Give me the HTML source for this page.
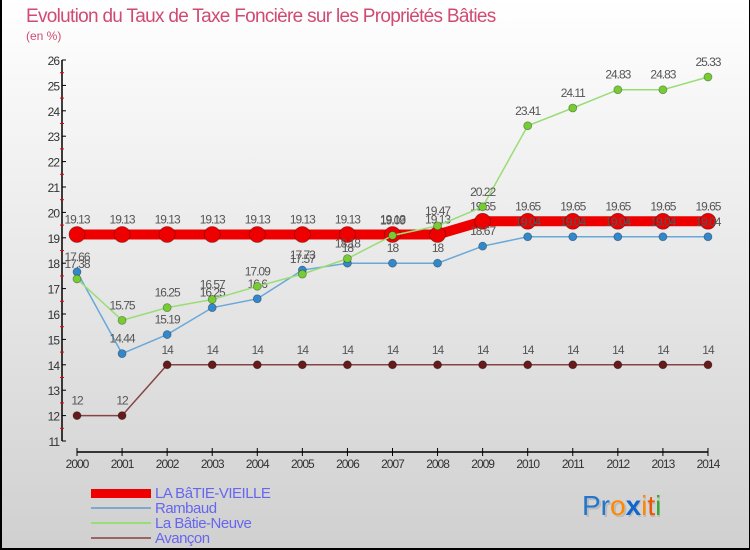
<!DOCTYPE html>
<html><head><meta charset="utf-8"><style>
body{margin:0;}
#wrap{position:relative;width:750px;height:550px;overflow:hidden;background:linear-gradient(#ffffff,#d0d0d0);font-family:"Liberation Sans",sans-serif;box-sizing:border-box;border-left:2px solid #000;border-bottom:2px solid #000;border-right:1px solid #000;}
svg text{font-family:"Liberation Sans",sans-serif;}
</style></head><body>
<div id="wrap">
<svg id="chart" width="750" height="550" style="position:absolute;left:-2px;top:0">
<text x="26" y="22" font-size="19" fill="#d04a72" letter-spacing="-0.7">Evolution du Taux de Taxe Foncière sur les Propriétés Bâties</text>
<text x="26" y="40" font-size="12" fill="#d04a72">(en %)</text>
<g id="axes"></g><g id="series"></g>
<g>
<rect x="91" y="489" width="60" height="9" fill="#ee0000"/>
<text x="155" y="498" font-size="15" fill="#6666ee" letter-spacing="-0.5">LA BâTIE-VIEILLE</text>
<rect x="91" y="507" width="60" height="2" fill="#7fa8cc"/>
<text x="155" y="513" font-size="15" fill="#6666ee" letter-spacing="-0.5">Rambaud</text>
<rect x="91" y="522" width="60" height="2" fill="#99dd77"/>
<text x="155" y="528" font-size="15" fill="#6666ee" letter-spacing="-0.5">La Bâtie-Neuve</text>
<rect x="91" y="537" width="60" height="2" fill="#996666"/>
<text x="155" y="543" font-size="15" fill="#6666ee" letter-spacing="-0.5">Avançon</text>
</g>
<g font-size="28">
<text x="584" y="517" fill="#bbb">Proxiti</text>
<text x="582" y="515"><tspan fill="#2277cc">Pr</tspan><tspan fill="#ff8800">o</tspan><tspan fill="#1166cc" font-weight="bold">x</tspan><tspan fill="#ff8800">i</tspan><tspan fill="#ee5500">t</tspan><tspan fill="#33aa33">i</tspan></text>
</g>
</svg>
</div>
<script>
const years=[2000,2001,2002,2003,2004,2005,2006,2007,2008,2009,2010,2011,2012,2013,2014];
const yTicks=[11,12,13,14,15,16,17,18,19,20,21,22,23,24,25,26];
const vieille=[19.13,19.13,19.13,19.13,19.13,19.13,19.13,19.13,19.13,19.65,19.65,19.65,19.65,19.65,19.65];
const rambaud=[17.66,14.44,15.19,16.25,16.6,17.73,18,18,18,18.67,19.04,19.04,19.04,19.04,19.04];
const neuve=[17.38,15.75,16.25,16.57,17.09,17.57,18.18,19.09,19.47,20.22,23.41,24.11,24.83,24.83,25.33];
const avancon=[12,12,14,14,14,14,14,14,14,14,14,14,14,14,14];
const NS='http://www.w3.org/2000/svg';
const x=i=>77+i*45.07;
const y=v=>441-(v-11)*25.4;
function mk(t,a,p){const e=document.createElementNS(NS,t);for(const k in a)e.setAttribute(k,a[k]);p.appendChild(e);return e;}
const ax=document.getElementById('axes');
let e=mk('line',{x1:62,y1:y(26),x2:62,y2:y(11),stroke:'#000','stroke-width':1.5},ax);


e=mk('line',{x1:x(0),y1:452,x2:x(14),y2:452,stroke:'#000','stroke-width':1.5},ax);


yTicks.forEach(v=>{
  mk('line',{x1:62,y1:y(v),x2:66,y2:y(v),stroke:'#000'},ax);
  if(v<26)mk('line',{x1:60,y1:y(v+0.5),x2:64,y2:y(v+0.5),stroke:'#e00'},ax);
  const t=mk('text',{x:59,y:y(v)+5,'font-size':12,'text-anchor':'end',fill:'#333','letter-spacing':-1},ax);
  t.textContent=v;
  
  
});
years.forEach((yr,i)=>{
  mk('line',{x1:x(i),y1:448,x2:x(i),y2:456,stroke:'#000'},ax);
  const t=mk('text',{x:x(i),y:468,'font-size':12,'text-anchor':'middle',fill:'#333','letter-spacing':-1},ax);
  t.textContent=yr;
  
  
});
const sg=document.getElementById('series');
function series(vals,color,dot,w,r,name){
  const g=mk('g',{},sg);
  
  
  mk('polyline',{points:vals.map((v,i)=>x(i)+','+y(v)).join(' '),fill:'none',stroke:color,'stroke-width':w},g);
  vals.forEach((v,i)=>{
    const c=mk('circle',{cx:x(i),cy:y(v),r:r,fill:dot,stroke:'rgba(0,0,0,0.35)','stroke-width':0.8},g);
    
    
    const t=mk('text',{x:x(i),y:y(v)-11,'font-size':12,'text-anchor':'middle',fill:'#555','letter-spacing':-1},g);
    t.textContent=v;
    
    
  });
}
series(avancon,'#884444','#661a1a',1.5,4,'avancon-series');
series(vieille,'#ee0000','#ee0000',10,8,'la-batie-vieille-series');
series(rambaud,'#6aa8d8','#3388cc',1.5,4,'rambaud-series');
series(neuve,'#99dd77','#77cc33',1.5,4,'la-batie-neuve-series');
</script>
</body></html>
